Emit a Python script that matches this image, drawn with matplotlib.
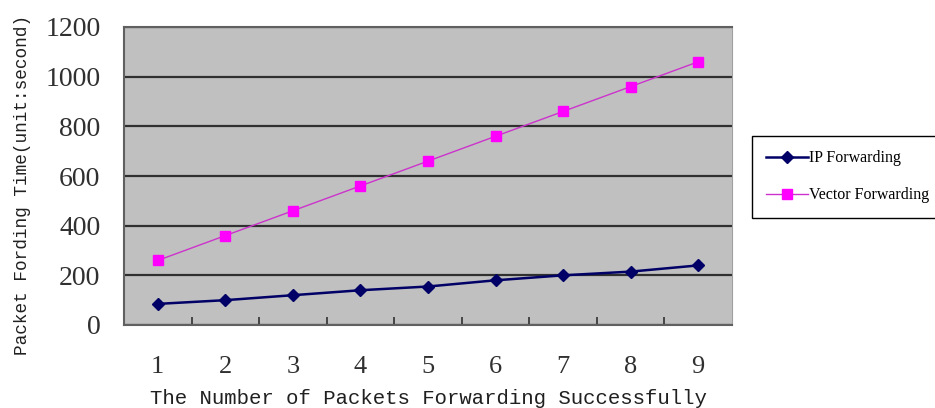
import numpy as np
import matplotlib.pyplot as plt

# datos
paquetes = [1, 2, 3, 4, 5, 6, 7, 8, 9]
ip_forwarding = [85, 100, 120, 140, 155, 180, 200, 215, 240]
vector_forwarding = [260, 360, 460, 560, 660, 760, 860, 960, 1060]
y_ticks = [0, 200, 400, 600, 800, 1000, 1200]


def plot_forwarding():
    fig = plt.figure(figsize=(9.35, 4.08), dpi=100)
    ax = fig.add_axes([124 / 935, 83 / 408, 608 / 935, 298 / 408])
    ax.set_facecolor('#c0c0c0')

    ax.plot(paquetes, ip_forwarding, color='#000066', lw=1.8, marker='D',
            ms=6.5, label='IP Forwarding', zorder=3)
    ax.plot(paquetes, vector_forwarding, color='#cc33cc', lw=1.0, marker='s',
            ms=7, mfc='#ff00ff', mec='#ff00ff', label='Vector Forwarding', zorder=3)

    ax.set_xlim(0.5, 9.5)
    ax.set_ylim(0, 1200)
    ax.set_yticks(y_ticks)
    ax.set_xticks(paquetes)
    ax.set_xticks(np.array(paquetes[:-1]) + 0.5, minor=True)
    ax.tick_params(axis='x', which='major', length=0, pad=22)
    ax.tick_params(axis='x', which='minor', direction='in', length=6, width=1.2, color='#303030')
    ax.tick_params(axis='y', length=0, pad=17)

    for t in ax.get_xticklabels():
        t.set_fontfamily('Liberation Serif')
        t.set_fontsize(19)
        t.set_color('#303030')
    for t in ax.get_yticklabels():
        t.set_fontfamily('Liberation Serif')
        t.set_fontsize(20)
        t.set_color('#303030')

    ax.yaxis.grid(True, color='#303030', lw=1.6)
    ax.set_axisbelow(True)
    for s in ['left', 'bottom', 'top']:
        ax.spines[s].set_color('#606060')
        ax.spines[s].set_linewidth(1.5)
    ax.spines['right'].set_color('#a0a0a0')

    ax.set_xlabel('The Number of Packets Forwarding Successfully',
                  fontfamily='Liberation Mono', fontsize=14.9, color='#202020', labelpad=8)
    ax.set_ylabel('Packet Fording Time(unit:second)',
                  fontfamily='Liberation Mono', fontsize=12.8, color='#202020')
    ax.yaxis.set_label_coords(-0.153, 0.47)

    leg = fig.legend(loc='upper left', bbox_to_anchor=(752 / 935, 1 - 136 / 408),
                     bbox_transform=fig.transFigure, prop={'family': 'Liberation Serif', 'size': 11.5},
                     frameon=True, fancybox=False, edgecolor='black', framealpha=1,
                     handlelength=2.6, handletextpad=0.05, labelspacing=1.3,
                     borderpad=0.9, borderaxespad=0)
    leg.get_frame().set_linewidth(1.0)

    plt.savefig('out.png', dpi=100)


if __name__ == "__main__":
    plot_forwarding()
